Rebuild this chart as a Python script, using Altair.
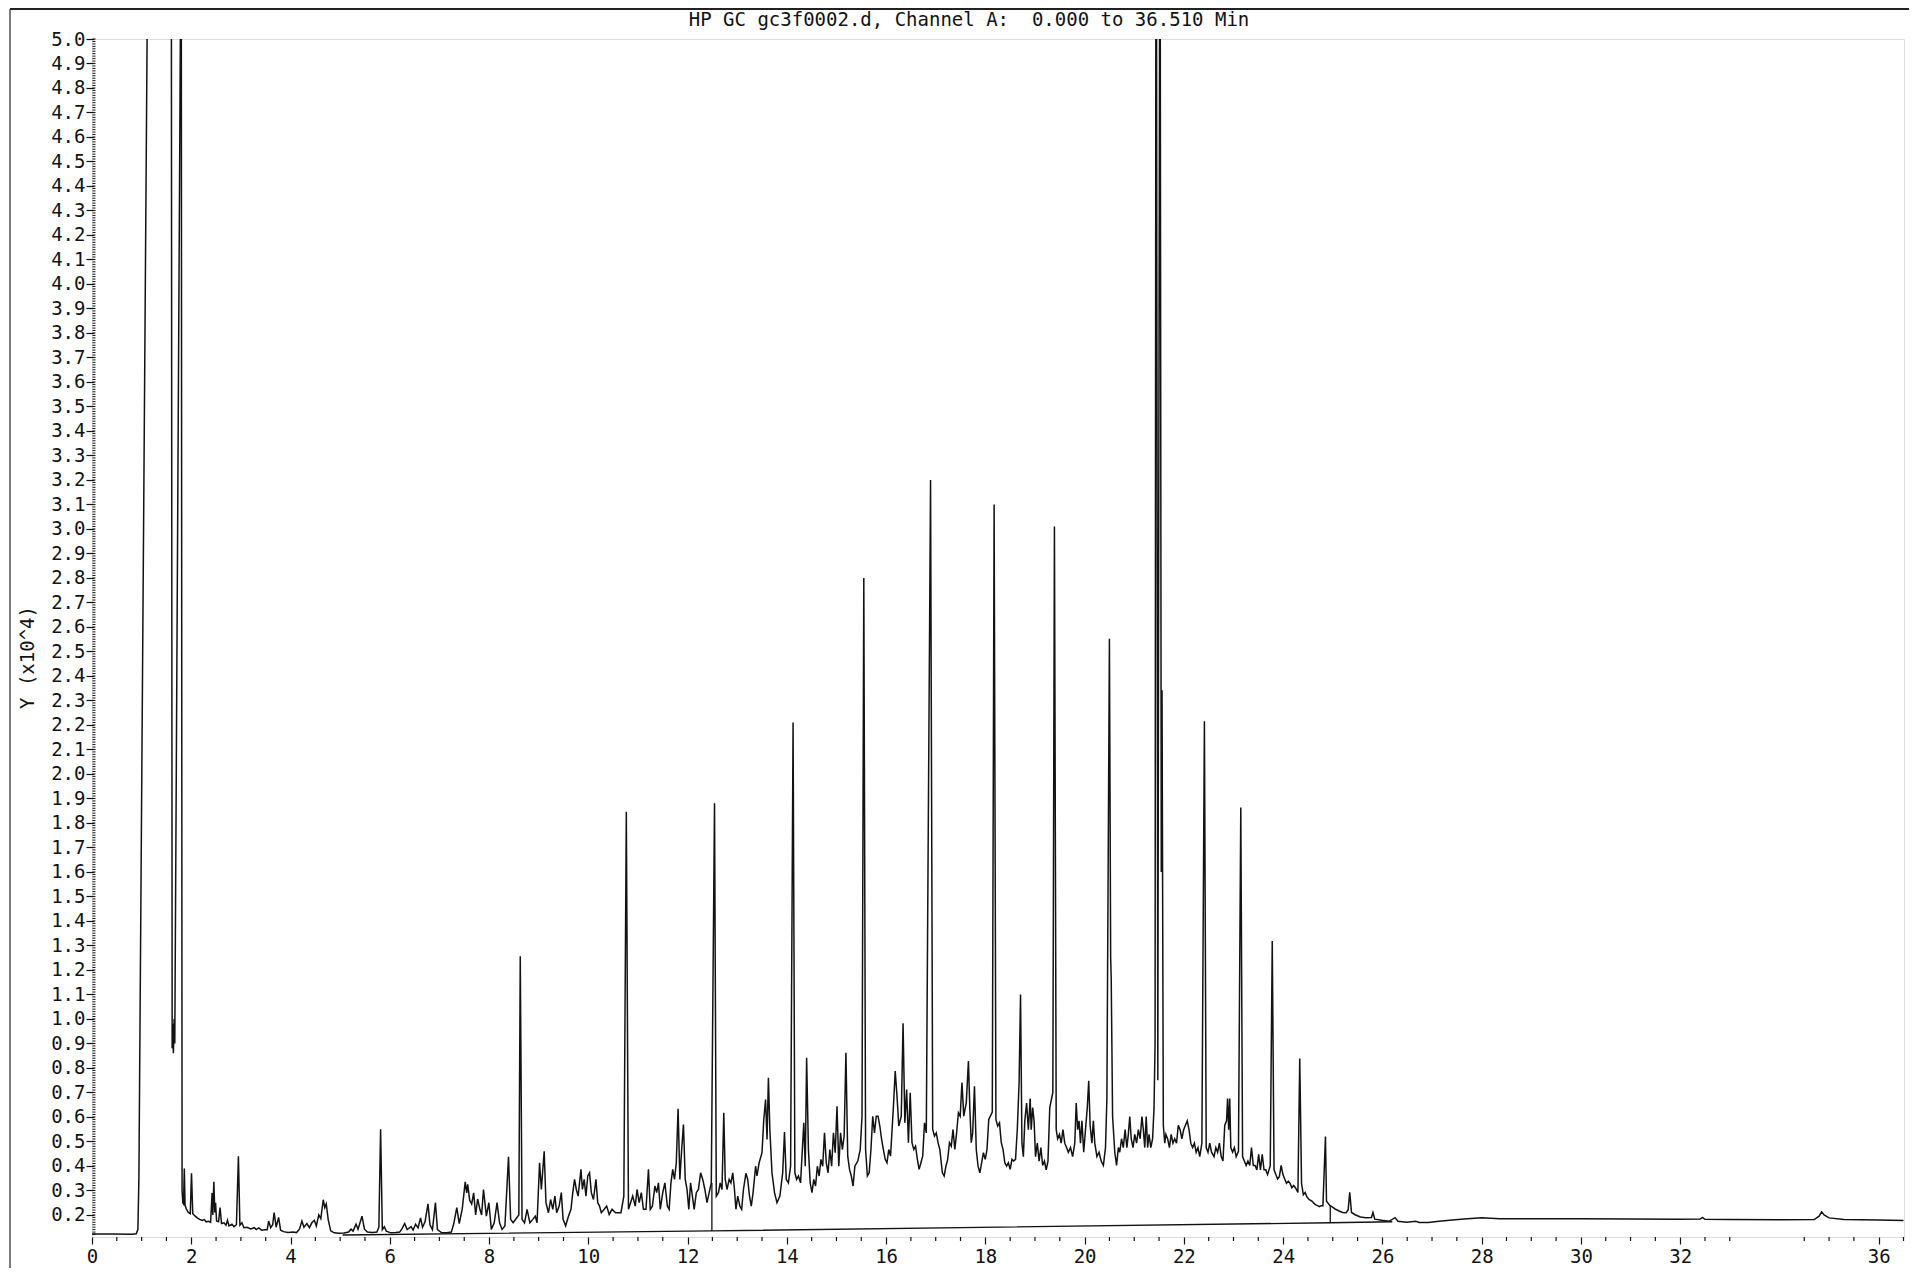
import altair as alt
import pandas as pd

TITLE = "HP GC gc3f0002.d, Channel A:\u00a0 0.000 to 36.510 Min"
Y_TITLE = "Y (x10^4)"
MONO = "DejaVu Sans Mono"

# trace vertices (retention time in min, response in 10^4 counts)
TRACE_0_3 = [
    (0.00, 0.122), (0.40, 0.122), (0.80, 0.121), (0.89, 0.123), (0.925, 0.14), (0.945, 0.35),
    (1.11, 5.0), (1.12, 8.0), (1.585, 8.0), (1.60, 5.0), (1.615, 0.88), (1.628, 0.98),
    (1.64, 0.86), (1.655, 1.00), (1.668, 0.90), (1.78, 5.0), (1.785, 8.0), (1.795, 8.0),
    (1.80, 5.0), (1.815, 0.30), (1.83, 0.25), (1.845, 0.245), (1.86, 0.39), (1.875, 0.24),
    (1.90, 0.225), (1.94, 0.21), (1.98, 0.205), (2.005, 0.37), (2.03, 0.205), (2.08, 0.195),
    (2.12, 0.188), (2.17, 0.182), (2.22, 0.178), (2.26, 0.181), (2.30, 0.172), (2.35, 0.174),
    (2.39, 0.17), (2.42, 0.29), (2.435, 0.2), (2.455, 0.335), (2.475, 0.21), (2.49, 0.25),
    (2.51, 0.175), (2.55, 0.172), (2.58, 0.23), (2.61, 0.165), (2.66, 0.168), (2.70, 0.158),
    (2.73, 0.178), (2.76, 0.155), (2.82, 0.162), (2.86, 0.152), (2.91, 0.16), (2.95, 0.44),
    (2.98, 0.158),
]
TRACE_3_8 = [
    (3.02, 0.168), (3.06, 0.148), (3.12, 0.15), (3.20, 0.143), (3.27, 0.148), (3.31, 0.14),
    (3.36, 0.147), (3.42, 0.138), (3.48, 0.14), (3.53, 0.14), (3.56, 0.175), (3.60, 0.148),
    (3.64, 0.16), (3.67, 0.21), (3.71, 0.15), (3.76, 0.19), (3.80, 0.138), (3.86, 0.132),
    (3.95, 0.128), (4.05, 0.13), (4.12, 0.128), (4.18, 0.142), (4.23, 0.175), (4.27, 0.15),
    (4.33, 0.165), (4.38, 0.148), (4.43, 0.168), (4.48, 0.178), (4.52, 0.155), (4.57, 0.2),
    (4.61, 0.185), (4.66, 0.262), (4.69, 0.23), (4.72, 0.245), (4.76, 0.18), (4.81, 0.135),
    (4.88, 0.127), (4.98, 0.125), (5.08, 0.126), (5.17, 0.13), (5.22, 0.142), (5.26, 0.134),
    (5.32, 0.162), (5.36, 0.142), (5.44, 0.195), (5.49, 0.142), (5.55, 0.13), (5.65, 0.128),
    (5.74, 0.13), (5.78, 0.15), (5.815, 0.55), (5.85, 0.14), (5.89, 0.152), (5.93, 0.134),
    (6.02, 0.127), (6.12, 0.128), (6.20, 0.13), (6.25, 0.145), (6.30, 0.165), (6.35, 0.14),
    (6.43, 0.152), (6.47, 0.138), (6.52, 0.162), (6.57, 0.148), (6.62, 0.188), (6.66, 0.15),
    (6.71, 0.172), (6.77, 0.245), (6.81, 0.16), (6.86, 0.14), (6.92, 0.25), (6.96, 0.14),
    (7.04, 0.128), (7.15, 0.127), (7.24, 0.13), (7.29, 0.165), (7.35, 0.23), (7.40, 0.165),
    (7.46, 0.225), (7.52, 0.335), (7.55, 0.29), (7.57, 0.325), (7.61, 0.26), (7.65, 0.245),
    (7.69, 0.29), (7.73, 0.2), (7.77, 0.265), (7.816, 0.223), (7.85, 0.2), (7.888, 0.304),
    (7.946, 0.195), (7.996, 0.25), (8.046, 0.141), (8.104, 0.168),
]
TRACE_8_13 = [
    (8.161, 0.250), (8.212, 0.168), (8.262, 0.141), (8.320, 0.155), (8.392, 0.437), (8.435, 0.182),
    (8.485, 0.168), (8.60, 0.20), (8.629, 1.256), (8.665, 0.182), (8.715, 0.168), (8.766, 0.223),
    (8.823, 0.168), (8.881, 0.182), (8.931, 0.195), (8.967, 0.168), (9.018, 0.413), (9.054, 0.304),
    (9.111, 0.460), (9.147, 0.250), (9.197, 0.209), (9.241, 0.263), (9.284, 0.223), (9.327, 0.277),
    (9.363, 0.209), (9.413, 0.236), (9.456, 0.291), (9.492, 0.182), (9.543, 0.155), (9.600, 0.195),
    (9.651, 0.223), (9.687, 0.291), (9.723, 0.345), (9.759, 0.304), (9.795, 0.277), (9.852, 0.386),
    (9.881, 0.304), (9.917, 0.345), (9.953, 0.277), (9.989, 0.359), (10.025, 0.372), (10.061, 0.291),
    (10.104, 0.263), (10.154, 0.345), (10.190, 0.250), (10.226, 0.236), (10.262, 0.209), (10.320, 0.223),
    (10.370, 0.236), (10.421, 0.202), (10.478, 0.223), (10.550, 0.209), (10.658, 0.209), (10.716, 0.277),
    (10.766, 1.846), (10.809, 0.223), (10.852, 0.250), (10.895, 0.277), (10.946, 0.236), (10.982, 0.304),
    (11.025, 0.250), (11.068, 0.291), (11.111, 0.223), (11.162, 0.223), (11.212, 0.386), (11.248, 0.223),
    (11.291, 0.236), (11.342, 0.318), (11.378, 0.291), (11.414, 0.331), (11.450, 0.223), (11.500, 0.291),
    (11.543, 0.331), (11.593, 0.236), (11.629, 0.223), (11.665, 0.331), (11.701, 0.386), (11.737, 0.345),
    (11.773, 0.413), (11.809, 0.633), (11.845, 0.345), (11.881, 0.467), (11.917, 0.569), (11.953, 0.345),
    (11.989, 0.304), (12.025, 0.223), (12.061, 0.331), (12.097, 0.277), (12.133, 0.223), (12.176, 0.291),
    (12.219, 0.304), (12.263, 0.372), (12.306, 0.345), (12.349, 0.304), (12.392, 0.250), (12.435, 0.291),
    (12.478, 0.331), (12.543, 1.88), (12.579, 0.277), (12.622, 0.291), (12.658, 0.331), (12.694, 0.304),
    (12.730, 0.617), (12.759, 0.345), (12.795, 0.304), (12.838, 0.345), (12.874, 0.331), (12.910, 0.372),
    (12.939, 0.318), (12.975, 0.223),
]
TRACE_13_19 = [
    (13.011, 0.277), (13.054, 0.236), (13.090, 0.223), (13.126, 0.304), (13.176, 0.370), (13.212, 0.345),
    (13.248, 0.277), (13.284, 0.236), (13.320, 0.291), (13.371, 0.399), (13.399, 0.359), (13.442, 0.413),
    (13.500, 0.454), (13.536, 0.590), (13.572, 0.671), (13.601, 0.508), (13.629, 0.760), (13.658, 0.549),
    (13.701, 0.372), (13.752, 0.291), (13.802, 0.250), (13.860, 0.277), (13.917, 0.372), (13.953, 0.538),
    (13.989, 0.345), (14.032, 0.331), (14.076, 0.399), (14.126, 2.21), (14.162, 0.372), (14.198, 0.345),
    (14.234, 0.359), (14.277, 0.331), (14.313, 0.467), (14.342, 0.576), (14.371, 0.399), (14.399, 0.842),
    (14.435, 0.467), (14.471, 0.331), (14.507, 0.291), (14.543, 0.345), (14.579, 0.318), (14.615, 0.399),
    (14.651, 0.359), (14.687, 0.427), (14.723, 0.399), (14.759, 0.535), (14.795, 0.413), (14.831, 0.372),
    (14.867, 0.467), (14.903, 0.399), (14.939, 0.535), (14.975, 0.454), (15.011, 0.644), (15.047, 0.399),
    (15.083, 0.535), (15.119, 0.467), (15.155, 0.522), (15.191, 0.862), (15.227, 0.440), (15.263, 0.386),
    (15.299, 0.359), (15.335, 0.318), (15.371, 0.399), (15.43, 0.42), (15.479, 0.467), (15.515, 0.603),
    (15.551, 2.80), (15.587, 0.467), (15.623, 0.359), (15.659, 0.372), (15.695, 0.467), (15.731, 0.603),
    (15.766, 0.535), (15.802, 0.603), (15.838, 0.603), (15.874, 0.563), (15.910, 0.508), (15.946, 0.467),
    (15.982, 0.427), (16.018, 0.413), (16.054, 0.467), (16.090, 0.440), (16.148, 0.644), (16.184, 0.787),
    (16.220, 0.685), (16.256, 0.563), (16.306, 0.603), (16.342, 0.982), (16.378, 0.576), (16.414, 0.712),
    (16.450, 0.495), (16.486, 0.699), (16.522, 0.495), (16.558, 0.467), (16.594, 0.481), (16.630, 0.427),
    (16.666, 0.386), (16.702, 0.413), (16.738, 0.440), (16.774, 0.576), (16.810, 0.535), (16.896, 3.20),
    (16.939, 0.549), (16.975, 0.522), (17.011, 0.535), (17.047, 0.495), (17.083, 0.467), (17.134, 0.372),
    (17.170, 0.359), (17.206, 0.399), (17.241, 0.427), (17.277, 0.495), (17.313, 0.481), (17.349, 0.549),
    (17.385, 0.467), (17.421, 0.535), (17.457, 0.617), (17.493, 0.603), (17.529, 0.740), (17.565, 0.603),
    (17.616, 0.658), (17.659, 0.828), (17.688, 0.631), (17.716, 0.495), (17.745, 0.535), (17.781, 0.725),
    (17.817, 0.467), (17.853, 0.399), (17.889, 0.372), (17.925, 0.413), (17.961, 0.454), (17.997, 0.427),
    (18.033, 0.467), (18.069, 0.590), (18.14, 0.62), (18.177, 3.10), (18.213, 0.590), (18.249, 0.563),
    (18.285, 0.576), (18.321, 0.495), (18.357, 0.467), (18.393, 0.413), (18.428, 0.399), (18.464, 0.413),
    (18.500, 0.386), (18.536, 0.427), (18.572, 0.420), (18.608, 0.427), (18.644, 0.549), (18.680, 0.740),
    (18.709, 1.10), (18.737, 0.493), (18.766, 0.438), (18.795, 0.584), (18.831, 0.657), (18.867, 0.548),
    (18.903, 0.675), (18.924, 0.548), (18.953, 0.638), (18.982, 0.584),
]
TRACE_19_25 = [
    (19.011, 0.438), (19.047, 0.493), (19.083, 0.420), (19.119, 0.475), (19.155, 0.402), (19.191, 0.420),
    (19.226, 0.384), (19.262, 0.420), (19.298, 0.638), (19.36, 0.70), (19.392, 3.01), (19.428, 0.548),
    (19.457, 0.511), (19.493, 0.529), (19.528, 0.493), (19.564, 0.548), (19.600, 0.493), (19.636, 0.475),
    (19.672, 0.456), (19.716, 0.475), (19.759, 0.438), (19.802, 0.493), (19.831, 0.657), (19.860, 0.548),
    (19.888, 0.584), (19.917, 0.493), (19.946, 0.584), (19.982, 0.456), (20.018, 0.548), (20.054, 0.638),
    (20.083, 0.748), (20.111, 0.566), (20.147, 0.493), (20.176, 0.584), (20.205, 0.493), (20.248, 0.438),
    (20.291, 0.456), (20.334, 0.420), (20.378, 0.402), (20.421, 0.475), (20.449, 0.675), (20.50, 2.552),
    (20.525, 1.25), (20.536, 1.167), (20.564, 0.602), (20.608, 0.456), (20.644, 0.402), (20.680, 0.475),
    (20.708, 0.456), (20.744, 0.511), (20.780, 0.475), (20.816, 0.548), (20.852, 0.475), (20.881, 0.529),
    (20.910, 0.602), (20.939, 0.511), (20.975, 0.475), (21.011, 0.529), (21.047, 0.493), (21.083, 0.548),
    (21.119, 0.511), (21.155, 0.602), (21.183, 0.548), (21.212, 0.475), (21.241, 0.602), (21.270, 0.475),
    (21.298, 0.529), (21.334, 0.475), (21.370, 0.511), (21.399, 0.638), (21.42, 0.9), (21.435, 5.0),
    (21.44, 8.0), (21.45, 5.0), (21.475, 0.75), (21.51, 5.0), (21.515, 8.0), (21.525, 5.0),
    (21.545, 1.60), (21.56, 2.342), (21.586, 0.566), (21.615, 0.493), (21.637, 0.529), (21.673, 0.511),
    (21.709, 0.475), (21.744, 0.529), (21.780, 0.493), (21.816, 0.511), (21.852, 0.493), (21.888, 0.566),
    (21.924, 0.548), (21.960, 0.511), (21.996, 0.548), (22.032, 0.566), (22.068, 0.584), (22.104, 0.548),
    (22.140, 0.493), (22.176, 0.475), (22.212, 0.493), (22.248, 0.456), (22.284, 0.475), (22.320, 0.438),
    (22.363, 0.493), (22.414, 2.215), (22.450, 0.475), (22.486, 0.456), (22.522, 0.493), (22.557, 0.456),
    (22.608, 0.438), (22.644, 0.475), (22.680, 0.456), (22.716, 0.493), (22.752, 0.438), (22.788, 0.420),
    (22.824, 0.566), (22.860, 0.584), (22.881, 0.675), (22.903, 0.548), (22.924, 0.675), (22.946, 0.475),
    (22.982, 0.456), (23.018, 0.475), (23.054, 0.438), (23.10, 0.46), (23.147, 1.863), (23.183, 0.438),
    (23.219, 0.420), (23.255, 0.402), (23.291, 0.420), (23.327, 0.402), (23.363, 0.475), (23.399, 0.402),
    (23.435, 0.402), (23.471, 0.384), (23.507, 0.447), (23.543, 0.384), (23.579, 0.447), (23.615, 0.384),
    (23.651, 0.384), (23.687, 0.365), (23.74, 0.40), (23.781, 1.318), (23.817, 0.384), (23.853, 0.365),
    (23.889, 0.347), (23.924, 0.356), (23.960, 0.402), (23.996, 0.365), (24.032, 0.347), (24.068, 0.329),
    (24.104, 0.338), (24.140, 0.329), (24.176, 0.311), (24.212, 0.320), (24.248, 0.311), (24.298, 0.292),
    (24.335, 0.839), (24.371, 0.329), (24.407, 0.283), (24.443, 0.292), (24.478, 0.274), (24.514, 0.265),
    (24.550, 0.260), (24.586, 0.256), (24.622, 0.247), (24.658, 0.241), (24.694, 0.238), (24.730, 0.234),
    (24.766, 0.238), (24.802, 0.238), (24.853, 0.520), (24.874, 0.256), (24.910, 0.247), (24.946, 0.238),
]
TRACE_25_END = [
    (24.982, 0.234), (25.018, 0.229), (25.054, 0.223), (25.090, 0.220), (25.126, 0.216), (25.198, 0.210),
    (25.270, 0.209), (25.31, 0.22), (25.342, 0.292), (25.378, 0.210), (25.450, 0.201), (25.558, 0.192),
    (25.666, 0.189), (25.78, 0.19), (25.810, 0.210), (25.846, 0.183), (25.989, 0.178), (26.133, 0.174),
    (26.256, 0.189), (26.313, 0.174), (26.493, 0.170), (26.673, 0.174), (26.745, 0.169), (26.926, 0.169),
    (27.140, 0.174), (27.356, 0.178), (27.644, 0.183), (28.004, 0.189), (28.364, 0.184), (29.0, 0.184),
    (30.0, 0.184), (31.0, 0.183), (32.0, 0.182), (32.4, 0.183), (32.45, 0.19), (32.5, 0.182),
    (33.0, 0.181), (34.0, 0.180), (34.7, 0.181), (34.8, 0.195), (34.85, 0.213), (34.9, 0.20),
    (35.0, 0.188), (35.3, 0.181), (36.0, 0.179), (36.5, 0.177),
]

# integration baseline and drop lines
BASELINE_T = [5.05, 12.49, 24.95, 26.2]
BASELINE_V = [0.118, 0.135, 0.168, 0.172]
DROP_T = [12.49, 24.95]
DROP_LOW = [0.135, 0.168]
DROP_HIGH = [0.33, 0.238]

# axes
Y_TICKS = [round(0.2 + 0.1 * i, 1) for i in range(49)]
Y_MINOR_TICKS = [round(0.12 + 0.01 * i, 2) for i in range(489)]
X_MAJOR = [0, 2, 4, 6, 8, 10, 12, 14, 16, 18, 20, 22, 24, 26, 28, 30, 32, 36]
X_MINOR = [0.5, 1, 1.5, 2.5, 3, 3.5, 4.5, 5, 5.5, 6.5, 7, 7.5, 8.5, 9, 9.5, 10.5, 11, 11.5,
           12.5, 13, 13.5, 14.5, 15, 15.5, 16.5, 17, 17.5, 18.5, 19, 19.5, 20.5, 21, 21.5,
           22.5, 23, 23.5, 24.5, 25, 25.5, 26.5, 27, 27.5, 28.5, 29, 29.5, 30.5, 31, 31.5,
           32.5, 33, 34.5, 35, 35.5, 36.5]

X_DOMAIN = [0, 36.51]
Y_DOMAIN = [0.11, 5.0]
W, H = 1812, 1198
INK = "#121212"
FS = 19

trace = pd.DataFrame(TRACE_0_3 + TRACE_3_8 + TRACE_8_13 + TRACE_13_19 + TRACE_19_25 + TRACE_25_END,
                     columns=["t", "v"])
base = pd.DataFrame({"t": BASELINE_T, "v": BASELINE_V})
drops = pd.DataFrame({"t": DROP_T, "v": DROP_LOW, "v2": DROP_HIGH})
ymin = pd.DataFrame({"v": Y_MINOR_TICKS})
xmin = pd.DataFrame({"t": X_MINOR})
one = pd.DataFrame({"k": [0]})

xscale = alt.Scale(domain=X_DOMAIN, nice=False, zero=False)
yscale = alt.Scale(domain=Y_DOMAIN, nice=False, zero=False)

xaxis = alt.Axis(values=X_MAJOR, format="d", domain=False, grid=False, tickSize=7, tickColor=INK,
                 tickWidth=1.2, labelFont=MONO, labelFontSize=FS, labelColor=INK, labelPadding=3,
                 title=None, labelFlush=False, labelOverlap=False)
yaxis = alt.Axis(values=Y_TICKS, format=".1f", domain=False, grid=False, tickSize=8, offset=-2,
                 tickColor=INK, tickWidth=1.2, labelFont=MONO, labelFontSize=FS, labelColor=INK,
                 labelPadding=1, labelOverlap=False, labelBound=False, title=Y_TITLE,
                 titleFont=MONO, titleFontSize=FS, titleFontWeight="normal", titleColor=INK,
                 titleAngle=270, titleX=-67, titleY=618, titleAlign="center",
                 titleBaseline="middle", labelFlush=False)


def X(field):
    return alt.X(field, type="quantitative", scale=xscale, axis=xaxis)


def Y(field):
    return alt.Y(field, type="quantitative", scale=yscale, axis=yaxis)


line = alt.Chart(trace).mark_line(clip=True, color=INK, strokeWidth=1.5).encode(
    x=X("t"), y=Y("v"), order="t:Q",
)
baseline = alt.Chart(base).mark_line(clip=True, color=INK, strokeWidth=1.4).encode(
    x=X("t"), y=Y("v")
)
droplines = alt.Chart(drops).mark_rule(color=INK, strokeWidth=1.3).encode(
    x=X("t"), y=Y("v"), y2="v2:Q"
)
yminor = alt.Chart(ymin).mark_rule(color=INK, strokeWidth=1).encode(
    y=Y("v"), x=alt.value(0.5), x2=alt.value(3.5)
)
xminor = alt.Chart(xmin).mark_rule(color=INK, strokeWidth=1.2).encode(
    x=X("t"), y=alt.value(H), y2=alt.value(H + 4)
)
frame_top = alt.Chart(one).mark_rule(color="#222", strokeWidth=2).encode(
    x=alt.value(-82), x2=alt.value(W + 12), y=alt.value(-30)
)
frame_left = alt.Chart(one).mark_rule(color="#333", strokeWidth=1.3).encode(
    x=alt.value(-82), y=alt.value(-30), y2=alt.value(H + 40)
)
title = alt.Chart(one).mark_text(text=TITLE, font=MONO, fontSize=FS, color=INK,
                                 align="center", baseline="middle").encode(
    x=alt.value(877), y=alt.value(-19)
)

chart = alt.layer(line, baseline, droplines, yminor, xminor, frame_top, frame_left, title).properties(
    width=W, height=H,
    autosize=alt.AutoSizeParams(type="none"),
    padding={"left": 84, "top": 31, "right": 5, "bottom": 31},
).configure_view(stroke=None).configure(background="white")

chart.save("out.html", embed_options={"renderer": "svg", "actions": False})
